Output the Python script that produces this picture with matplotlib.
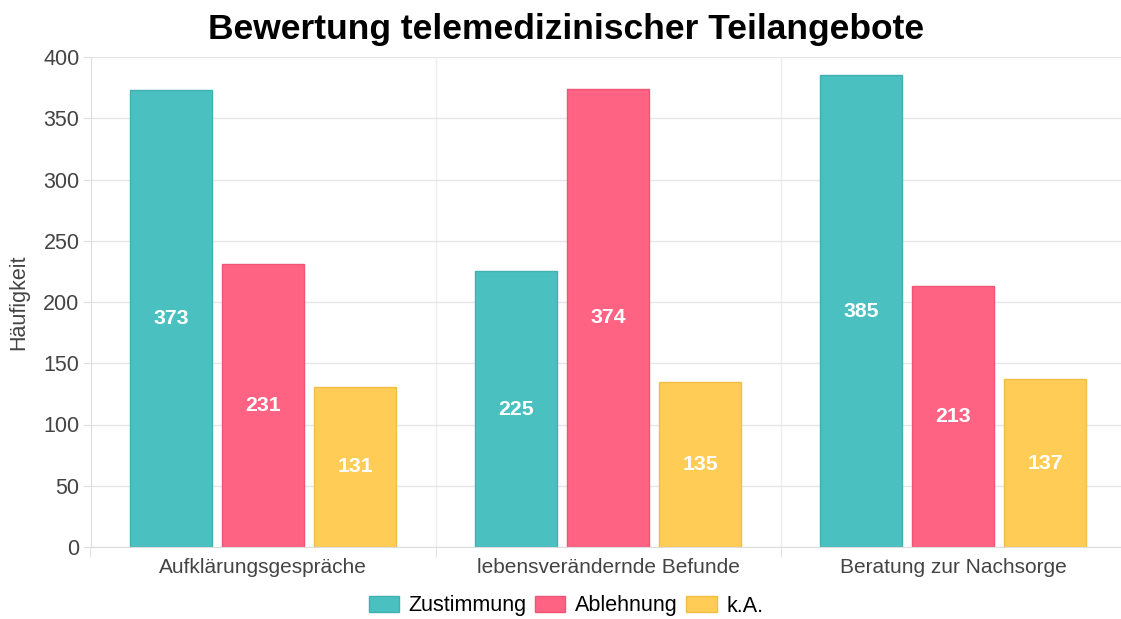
import numpy as np
import matplotlib
matplotlib.use("Agg")
import matplotlib.pyplot as plt
from matplotlib.patches import Patch

categories = ["Aufklärungsgespräche", "lebensverändernde Befunde", "Beratung zur Nachsorge"]
series_names = ["Zustimmung", "Ablehnung", "k.A."]
zustimmung = [373, 225, 385]
ablehnung = [231, 374, 213]
keine_angabe = [131, 135, 137]

colors = ["#4BC0C0", "#FF6384", "#FFCD56"]
edges = ["#3fb1b1", "#f05576", "#f0bd47"]

plt.rcParams["font.family"] = ["Liberation Sans", "DejaVu Sans"]

fig = plt.figure(figsize=(11.21, 6.19), dpi=100)
ax = fig.add_axes([90.5 / 1121, 1 - 547 / 619, 1035 / 1121, 490 / 619])

x = np.arange(len(categories))
slot = 0.8 / 3
width = slot * 0.9
for i, (vals, c, e) in enumerate(zip([zustimmung, ablehnung, keine_angabe], colors, edges)):
    pos = x + (i - 1) * slot
    ax.bar(pos, vals, width, color=c, edgecolor=e, linewidth=1, zorder=2)
    for p, v in zip(pos, vals):
        ax.text(p, v / 2, str(v), ha="center", va="center", color="white",
                fontsize=15.3, fontweight="bold", zorder=3)

ax.set_xlim(-0.5, 2.5)
ax.set_ylim(0, 400)
ax.set_yticks(range(0, 401, 50))
ax.set_xticks(x)
ax.set_xticklabels(categories)
ax.set_xticks([-0.5, 0.5, 1.5, 2.5], minor=True)
ax.tick_params(axis="x", which="major", length=0, pad=8, labelsize=15, colors="#444444")
ax.tick_params(axis="x", which="minor", length=7, color="#dddddd")
ax.tick_params(axis="y", length=6, color="#dddddd", pad=2, labelsize=15.5, labelcolor="#444444")
ax.grid(axis="y", color="#e6e6e6", linewidth=1, zorder=0)
ax.grid(axis="x", which="minor", color="#eeeeee", linewidth=1, zorder=0)
for s in ["top", "right"]:
    ax.spines[s].set_visible(False)
ax.spines["left"].set_color("#dddddd")
ax.spines["bottom"].set_color("#dddddd")
ax.set_ylabel("Häufigkeit", fontsize=15.5, color="#444444", labelpad=10)

fig.text(566 / 1121, 1 - 30 / 619, "Bewertung telemedizinischer Teilangebote",
         ha="center", va="center", fontsize=25.5, fontweight="bold", color="black")

handles = [Patch(facecolor=c, edgecolor=e, label=n) for c, e, n in zip(colors, edges, series_names)]
fig.legend(handles=handles, loc="center", bbox_to_anchor=(566 / 1121, 1 - 606 / 619),
           ncol=3, frameon=False, fontsize=15.5, handlelength=1.4, handleheight=0.8,
           handletextpad=0.45, columnspacing=0.4, borderpad=0, borderaxespad=0)

fig.savefig("out.png", dpi=100)
